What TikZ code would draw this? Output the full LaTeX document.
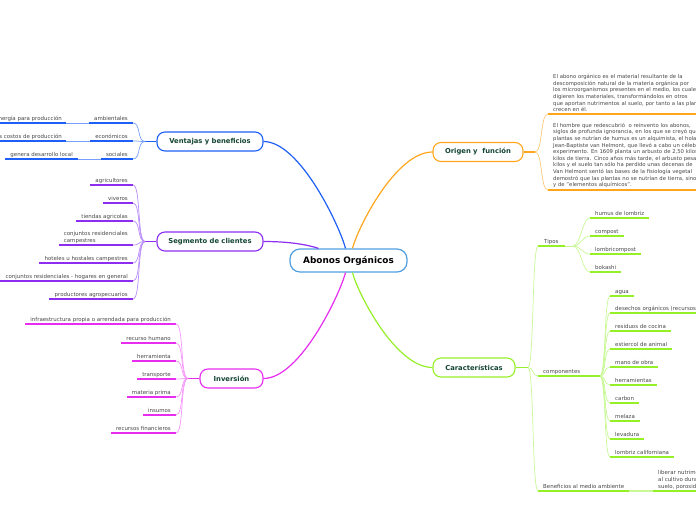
\documentclass[tikz,border=0pt]{standalone}
\usepackage{fontspec}
\setmainfont{DejaVu Sans}
\usetikzlibrary{positioning}
\definecolor{centreline}{RGB}{80,160,225}
\definecolor{ventajas}{RGB}{30,95,245}
\definecolor{ventajasfan}{RGB}{120,160,250}
\definecolor{segmento}{RGB}{140,45,240}
\definecolor{segmentofan}{RGB}{185,140,250}
\definecolor{inversion}{RGB}{230,45,240}
\definecolor{inversionfan}{RGB}{245,150,250}
\definecolor{origen}{RGB}{255,165,30}
\definecolor{origenfan}{RGB}{255,200,120}
\definecolor{carac}{RGB}{150,240,40}
\definecolor{caracfan}{RGB}{200,248,150}
\definecolor{topictext}{RGB}{20,70,50}
\definecolor{leaftext}{RGB}{70,70,70}
\tikzset{
  topic/.style={draw, rounded corners=8pt, line width=1.1pt, fill=white,
                font=\fontsize{6.8}{8}\selectfont\bfseries, text=topictext,
                minimum height=19pt, inner sep=0pt},
  leaf/.style={font=\fontsize{5.45}{6.8}\selectfont, text=leaftext, align=left,
               inner xsep=5pt, inner ysep=1.3pt, text height=4pt, text depth=1.2pt},
  block/.style={font=\fontsize{5.3}{6.6}\selectfont, text=leaftext, align=left,
                text width=200pt, inner xsep=5pt, inner ysep=2pt},
  under/.style={line width=1.6pt},
  branch/.style={line width=1.2pt},
  fan/.style={line width=0.7pt},
}

\begin{document}
\begin{tikzpicture}[x=1pt, y=-1pt]
  \useasboundingbox (0,0) rectangle (696,520);
  \clip (0,0) rectangle (696,520);

  %% centre and main topics
  \node[topic, draw=centreline, rounded corners=10pt, line width=1.2pt, text=black,
        font=\fontsize{8.9}{10}\selectfont\bfseries, minimum width=117pt, minimum height=23pt]
        (abonos) at (348.5,260.5) {Abonos Orgánicos};
  \node[topic, draw=ventajas, minimum width=106pt] (ventajas) at (210,141.5) {Ventajas y beneficios};
  \node[topic, draw=segmento, minimum width=106pt] (segmento) at (210,241.5) {Segmento de clientes};
  \node[topic, draw=inversion, minimum width=63pt] (inversion) at (231.5,378.5) {Inversión};
  \node[topic, draw=origen, minimum width=90pt] (origen) at (478,152) {Origen y~ función};
  \node[topic, draw=carac, minimum width=82pt] (carac) at (474,367.5) {Características};

  \draw[branch, ventajas] ([xshift=-3pt]abonos.north) .. controls +(-5,-20) and +(37,0) .. (ventajas.east);
  \draw[branch, segmento] ([xshift=-30pt]abonos.north) .. controls +(-15,-5) and +(20,0) .. (segmento.east);
  \draw[branch, inversion] ([xshift=-3pt]abonos.south) .. controls +(-5,20) and +(37,0) .. (inversion.east);
  \draw[branch, origen] ([xshift=4pt]abonos.north) .. controls +(5,-20) and +(-37,0) .. (origen.west);
  \draw[branch, carac] ([xshift=4pt]abonos.south) .. controls +(5,20) and +(-37,0) .. (carac.west);

  %% ventajas y beneficios
  \coordinate (vbr) at (145,141.5);
  \draw[branch, ventajas] (ventajas.west) -- (vbr);
  \foreach \name/\y/\txt in {amb/123/ambientales, eco/141/económicos, soc/159/sociales}{
    \node[leaf, anchor=south east] (\name) at (133,\y) {\txt};
    \draw[under, ventajas] (\name.south west) -- (\name.south east);
    \draw[fan, ventajasfan] (vbr) .. controls +(-8,0) and +(8,0) .. (\name.south east);
  }
  \node[leaf, anchor=south east, inner xsep=4pt] (energia) at (66,123) {energía para producción};
  \node[leaf, anchor=south east, inner xsep=4pt] (costos) at (66,141) {bajos costos de producción};
  \node[leaf, anchor=south east] (local) at (78,159) {genera desarrollo local};
  \foreach \name in {energia, costos, local}
    \draw[under, ventajas] (\name.south west) -- (\name.south east);
  \draw[fan, ventajasfan] (amb.south west) -- (energia.south east);
  \draw[fan, ventajasfan] (eco.south west) -- (costos.south east);
  \draw[fan, ventajasfan] (soc.south west) -- (local.south east);

  %% segmento de clientes
  \coordinate (sbr) at (145,241.5);
  \draw[branch, segmento] (segmento.west) -- (sbr);
  \foreach \name/\y/\txt in {agricultores/185/agricultores, viveros/203/viveros,
      tiendas/221/tiendas agricolas, conjuntos/245/{conjuntos residenciales\\campestres},
      hoteles/263/hoteles u hostales campestres,
      hogares/281/conjuntos residenciales - hogares en general,
      productores/299/productores agropecuarios}{
    \node[leaf, anchor=south east] (\name) at (133,\y) {\txt};
    \draw[under, segmento] (\name.south west) -- (\name.south east);
    \draw[fan, segmentofan] (sbr) .. controls +(-8,0) and +(8,0) .. (\name.south east);
  }

  %% inversion
  \coordinate (ibr) at (188,378.5);
  \draw[branch, inversion] (inversion.west) -- (ibr);
  \foreach \name/\y/\txt in {infra/324/infraestructura propia o arrendada para producción,
      humano/343/recurso humano, herramienta/361/herramienta, transporte/379/transporte,
      materia/397/materia prima, insumos/415/insumos, financieros/433/recursos financieros}{
    \node[leaf, anchor=south east] (\name) at (176,\y) {\txt};
    \draw[under, inversion] (\name.south west) -- (\name.south east);
    \draw[fan, inversionfan] (ibr) .. controls +(-8,0) and +(8,0) .. (\name.south east);
  }

  %% origen y funcion
  \coordinate (obr) at (535,152);
  \draw[branch, origen] (origen.east) -- (obr);
  \node[block, anchor=south west] (definicion) at (548,114) {%
    El abono orgánico es el material resultante de la\\
    descomposición natural de la materia orgánica por\\
    los microorganismos presentes en el medio, los cuales\\
    digieren los materiales, transformándolos en otros\\
    que aportan nutrimentos al suelo, por tanto a las plantas\\
    crecen en él.};
  \node[block, anchor=south west] (historia) at (548,190) {%
    El hombre que redescubrió~ o reinvento los abonos,\\
    siglos de profunda ignorancia, en los que se creyó que\\
    plantas se nutrían de humus es un alquimista, el holandés\\
    Jean-Baptiste van Helmont, que llevó a cabo un célebre\\
    experimento. En 1609 planta un arbusto de 2,50 kilos\\
    kilos de tierra. Cinco años más tarde, el arbusto pesa\\
    kilos y el suelo tan sólo ha perdido unas decenas de\\
    Van Helmont sentó las bases de la fisiología vegetal\\
    demostró que las plantas no se nutrían de tierra, sino\\
    y de "elementos alquímicos".};
  \foreach \name in {definicion, historia}{
    \draw[under, origen] (\name.south west) -- (\name.south east);
    \draw[fan, origenfan] (obr) .. controls +(8,0) and +(-8,0) .. (\name.south west);
  }

  %% caracteristicas
  \coordinate (cbr) at (528,367.5);
  \draw[branch, carac] (carac.east) -- (cbr);
  \node[leaf, anchor=south west, inner xsep=6pt] (tipos) at (538,246) {Tipos};
  \node[leaf, anchor=south west] (componentes) at (538,376) {componentes};
  \node[leaf, anchor=south west] (beneficios) at (538,491) {Beneficios al medio ambiente};
  \foreach \name in {tipos, componentes, beneficios}{
    \draw[under, carac] (\name.south west) -- (\name.south east);
    \draw[fan, caracfan] (cbr) .. controls +(6,0) and +(-6,0) .. (\name.south west);
  }

  \coordinate (tbr) at (573,246);
  \draw[fan, caracfan] (tipos.south east) -- (tbr);
  \foreach \name/\y/\txt in {humus/218/humus de lombriz, compost/236/compost,
      lombricompost/254/lombricompost, bokashi/272/bokashi}{
    \node[leaf, anchor=south west] (\name) at (590,\y) {\txt};
    \draw[under, carac] (\name.south west) -- (\name.south east);
    \draw[fan, caracfan] (tbr) .. controls +(8,0) and +(-8,0) .. (\name.south west);
  }

  \coordinate (cpbr) at (600,376);
  \draw[under, carac] (componentes.south east) -- (cpbr);
  \foreach \name/\y/\txt in {agua/296/agua, desechos/313/desechos orgánicos (recursos propios),
      residuos/331/residuos de cocina, estiercol/349/estiercol de animal,
      mano/367/mano de obra, herramientas/385/herramientas, carbon/403/carbon,
      melaza/421/melaza, levadura/439/levadura, lombriz/457/lombriz californiana}{
    \node[leaf, anchor=south west] (\name) at (610,\y) {\txt};
    \draw[under, carac] (\name.south west) -- (\name.south east);
    \draw[fan, caracfan] (cpbr) .. controls +(6,0) and +(-6,0) .. (\name.south west);
  }

  \node[leaf, anchor=south west] (liberar) at (653,491) {liberar nutrimentos\\al cultivo durante\\suelo, porosidad};
  \draw[under, carac] (liberar.south west) -- (liberar.south east);
  \draw[under, caracfan] (beneficios.south east) -- (liberar.south west);
\end{tikzpicture}
\end{document}
